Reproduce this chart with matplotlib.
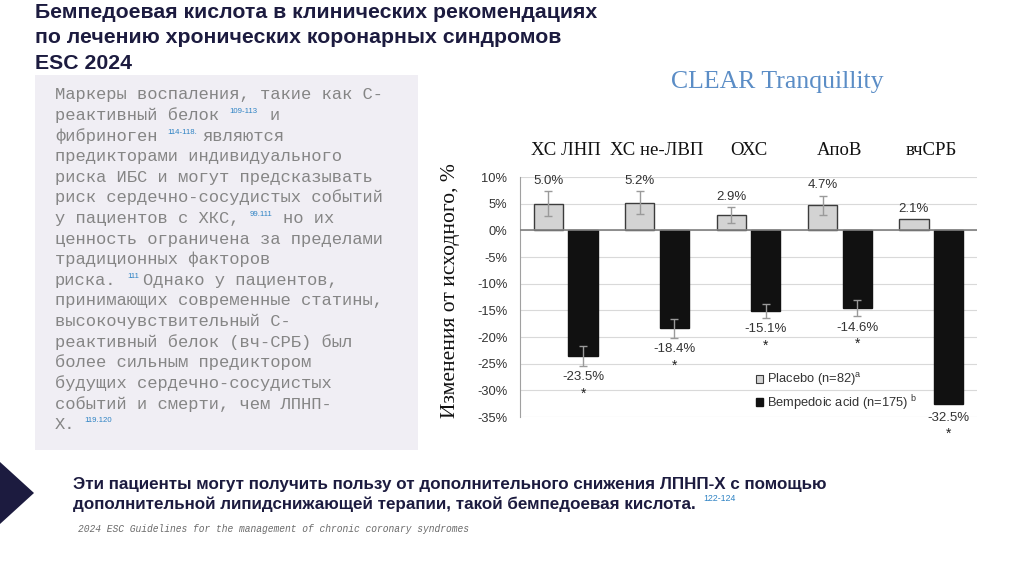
import matplotlib.pyplot as plt
import numpy as np
from matplotlib.patches import Rectangle, Polygon
from matplotlib.ticker import FuncFormatter

# --- data ---
categories = ['ХС ЛНП', 'ХС не-ЛВП', 'ОХС', 'АпоВ', 'вчСРБ']
placebo = np.array([5.0, 5.2, 2.9, 4.7, 2.1])
placebo_err = np.array([2.3, 2.1, 1.5, 1.8, np.nan])
bempedoic = np.array([-23.5, -18.4, -15.1, -14.6, -32.5])
bempedoic_err = np.array([1.9, 1.7, 1.3, 1.5, np.nan])
yticks = [10, 5, 0, -5, -10, -15, -20, -25, -30, -35]

title_lines = ['Бемпедоевая кислота в клинических рекомендациях',
               'по лечению хронических коронарных синдромов',
               'ESC 2024']

# each line: list of (column, text, is_superscript)
box_lines = [
    [(0, 'Маркеры воспаления, такие как С-', False)],
    [(0, 'реактивный белок', False), (17, '109-113', True), (20.9, 'и', False)],
    [(0, 'фибриноген', False), (11, '114-118.', True), (14.4, 'являются', False)],
    [(0, 'предикторами индивидуального', False)],
    [(0, 'риска ИБС и могут предсказывать', False)],
    [(0, 'риск сердечно-сосудистых событий', False)],
    [(0, 'у пациентов с ХКС,', False), (19, '99.111', True), (22.2, 'но их', False)],
    [(0, 'ценность ограничена за пределами', False)],
    [(0, 'традиционных факторов', False)],
    [(0, 'риска.', False), (7.1, '111', True), (8.6, 'Однако у пациентов,', False)],
    [(0, 'принимающих современные статины,', False)],
    [(0, 'высокочувствительный С-', False)],
    [(0, 'реактивный белок (вч-СРБ) был', False)],
    [(0, 'более сильным предиктором', False)],
    [(0, 'будущих сердечно-сосудистых', False)],
    [(0, 'событий и смерти, чем ЛПНП-', False)],
    [(0, 'Х.', False), (2.9, '119.120', True)],
]

bottom_lines = ['Эти пациенты могут получить пользу от дополнительного снижения ЛПНП-Х с помощью',
                'дополнительной липидснижающей терапии, такой бемпедоевая кислота.']
bottom_ref = '122-124'
footer = '2024 ESC Guidelines for the management of chronic coronary syndromes'

W, H = 1024, 574
def px(x):
    return x / W
def py(y):
    return 1 - y / H

navy = '#1c1b3f'
blue_ref = '#2f83c4'

fig = plt.figure(figsize=(10.24, 5.74), dpi=100)

# title
for i, line in enumerate(title_lines):
    fig.text(px(35), py(18 + i * 25.3), line, fontsize=15.3, fontweight='bold',
             color=navy, family='Liberation Sans', va='baseline', ha='left')

# grey text box
fig.patches.append(Rectangle((px(35), py(450)), px(418) - px(35), py(75) - py(450),
                             transform=fig.transFigure, facecolor='#f0eef4',
                             edgecolor='none', zorder=0))
cw = 10.25
for i, segs in enumerate(box_lines):
    base = 99.5 + i * 20.6
    for col, txt, sup in segs:
        if sup:
            fig.text(px(55 + col * cw), py(base - 7), txt, fontsize=5.6, color=blue_ref,
                     family='Liberation Sans', va='baseline', ha='left')
        else:
            fig.text(px(55 + col * cw), py(base), txt, fontsize=12.3, color='#858585',
                     family='Liberation Mono', va='baseline', ha='left')

# chevron bottom left
fig.patches.append(Polygon([(px(0), py(462)), (px(34), py(493)), (px(0), py(524))],
                           closed=True, transform=fig.transFigure, facecolor=navy,
                           edgecolor='none'))

for i, line in enumerate(bottom_lines):
    fig.text(px(73), py(489 + i * 20), line, fontsize=12.25, fontweight='bold',
             color=navy, family='Liberation Sans', va='baseline', ha='left')
fig.text(px(703), py(501), bottom_ref, fontsize=6.3, color=blue_ref,
         family='Liberation Sans', va='baseline', ha='left')
fig.text(px(78), py(529), footer, fontsize=6.9, style='italic', color='#6a6a6a',
         family='Liberation Mono', va='center', ha='left')

# chart headings
fig.text(px(777), py(82), 'CLEAR Tranquillity', fontsize=18.5, color='#5b8dc6',
         family='Liberation Serif', ha='center', va='center')
fig.text(px(450), py(291), 'Изменения от исходного, %', fontsize=15.5, color='#111111',
         family='Liberation Serif', rotation=90, ha='center', va='center')

# bar chart
ax = fig.add_axes([px(520), py(417), px(977) - px(520), py(177) - py(417)])
x = np.arange(len(categories))
w = 0.32
off = 0.19
ax.bar(x - off, placebo, w, color='#d3d3d3', edgecolor='#3c3c3c', linewidth=1, zorder=3)
ax.bar(x + off, bempedoic, w, color='#111111', edgecolor='#111111', linewidth=1, zorder=3)

m = np.isfinite(placebo_err)
ax.errorbar(x[m] - off, placebo[m], yerr=placebo_err[m], fmt='none', ecolor='#9a9a9a',
            elinewidth=1, capsize=3, capthick=1, zorder=4)
m = np.isfinite(bempedoic_err)
ax.errorbar(x[m] + off, bempedoic[m], yerr=bempedoic_err[m], fmt='none', ecolor='#9a9a9a',
            elinewidth=1, capsize=3, capthick=1, zorder=4)

for xi, v, e in zip(x, placebo, placebo_err):
    top = v + (0 if np.isnan(e) else e)
    ax.annotate(f'{v:.1f}%', (xi - off, top), xytext=(0, 3), textcoords='offset points',
                ha='center', va='bottom', fontsize=9.5, color='#333333',
                family='Liberation Sans')
for xi, v, e in zip(x, bempedoic, bempedoic_err):
    bot = v - (0 if np.isnan(e) else e)
    gap = 4 if not np.isnan(e) else 6
    ax.annotate(f'{v:.1f}%', (xi + off, bot), xytext=(0, -gap), textcoords='offset points',
                ha='center', va='top', fontsize=9.5, color='#333333',
                family='Liberation Sans')
    ax.annotate('*', (xi + off, bot), xytext=(0, -gap - 11), textcoords='offset points',
                ha='center', va='top', fontsize=10, color='#222222',
                family='Liberation Sans')

ax.set_xlim(-0.5, 4.5)
ax.set_ylim(-35, 10)
ax.set_yticks(yticks)
ax.yaxis.set_major_formatter(FuncFormatter(lambda v, p: f'{v:.0f}%'))
ax.tick_params(axis='y', length=0, pad=9, labelsize=9.3, labelcolor='#333333')
for lab in ax.get_yticklabels():
    lab.set_family('Liberation Sans')
ax.xaxis.tick_top()
ax.set_xticks(x)
ax.set_xticklabels(categories, family='Liberation Serif', fontsize=13.5, color='#111111')
ax.tick_params(axis='x', length=0, pad=13)
ax.grid(axis='y', color='#d9d9d9', linewidth=0.8, zorder=0)
ax.axhline(0, color='#808080', linewidth=1.2, zorder=3.5)
for s in ['top', 'right', 'bottom']:
    ax.spines[s].set_visible(False)
ax.spines['left'].set_color('#a0a0a0')
ax.set_axisbelow(True)

handles = [Rectangle((0, 0), 1, 1, facecolor='#d3d3d3', edgecolor='#3c3c3c', linewidth=0.8),
           Rectangle((0, 0), 1, 1, facecolor='#111111', edgecolor='#111111')]
labels = ['Placebo (n=82)$^{\\mathregular{a}}$', 'Bempedoic acid (n=175) $^{\\mathregular{b}}$']
leg = ax.legend(handles, labels, loc='lower left', bbox_to_anchor=(0.49, -0.03),
                frameon=False, handlelength=0.6, handleheight=0.6,
                handletextpad=0.3, labelspacing=0.35, prop={'family': 'Liberation Sans', 'size': 9.3})
for t in leg.get_texts():
    t.set_color('#333333')

fig.savefig('out.png', dpi=100)
